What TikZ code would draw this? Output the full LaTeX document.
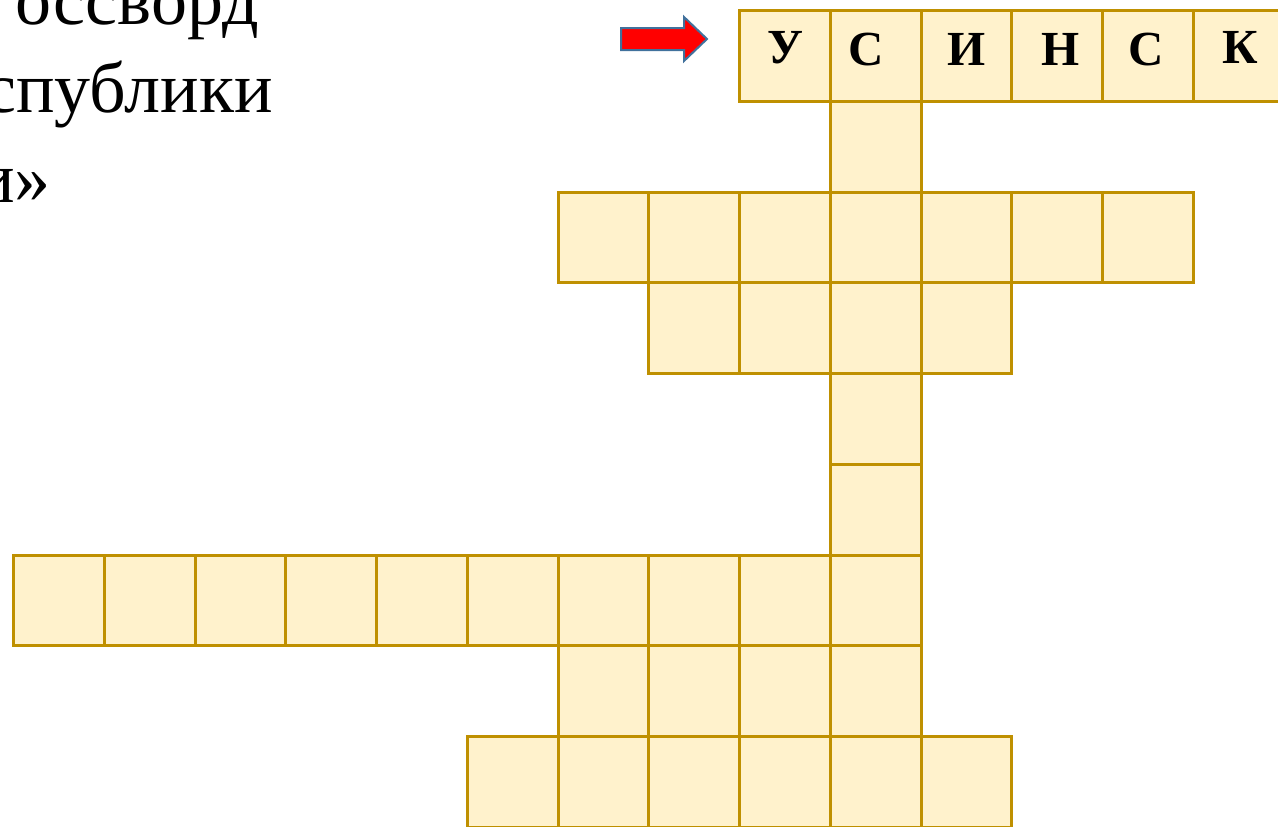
\documentclass[tikz,border=0pt]{standalone}
\usepackage{fontspec}
\setmainfont{Liberation Serif}
\definecolor{cellfill}{HTML}{FFF2CC}
\definecolor{celldraw}{HTML}{BF9000}
\definecolor{arrowedge}{HTML}{41719C}
\begin{document}
\begin{tikzpicture}[x=1pt,y=-1pt,
  cell/.style={draw=celldraw,fill=cellfill,line width=3.2pt,minimum size=90.75pt,inner sep=0pt,anchor=north west},
  letter/.style={font=\fontsize{49}{50}\selectfont\bfseries,anchor=base,inner sep=0pt},
  bigtext/.style={font=\fontsize{72}{86}\selectfont,anchor=base east,inner sep=0pt}]
\useasboundingbox (0,0) rectangle (1278,827);
\clip (0,0) rectangle (1278,827);
% left title fragments
\node[bigtext] (t1) at (259,24) {оссворд};
\node[bigtext] (t2) at (273,112) {спублики};
\node[bigtext] (t3) at (51,202) {и»};
% cells
\def\cs{90.75}
\foreach \r/\a/\b in {0/8/13,1/9/9,2/6/12,3/7/10,4/9/9,5/9/9,6/0/9,7/6/9,8/5/10}{
  \foreach \c in {\a,...,\b}{
    \node[cell] (r\r c\c) at ({12+\cs*\c},{9+\cs*\r}) {};
  }
}
% letters
\node[letter] (l1) at (785,63) {У};
\node[letter] (l2) at (866,65) {С};
\node[letter] (l3) at (967,65) {И};
\node[letter] (l4) at (1061,65) {Н};
\node[letter] (l5) at (1146,65) {С};
\node[letter] (l6) at (1240,63) {К};
% arrow
\draw[fill=red,draw=arrowedge,line width=2pt,line join=miter]
  (621,28) -- (684,28) -- (684,17) -- (707,39) -- (684,61) -- (684,50) -- (621,50) -- cycle;
\end{tikzpicture}
\end{document}
